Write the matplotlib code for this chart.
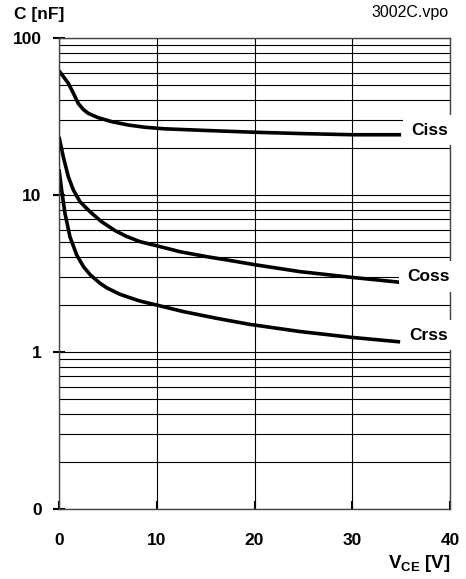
import numpy as np
import matplotlib
matplotlib.use("Agg")
import matplotlib.pyplot as plt
from matplotlib.ticker import LogLocator, FixedLocator, NullFormatter

plt.rcParams['font.family'] = ['Liberation Sans', 'DejaVu Sans']
plt.rcParams['mathtext.fontset'] = 'custom'
plt.rcParams['mathtext.bf'] = 'Liberation Sans:bold'
plt.rcParams['mathtext.rm'] = 'Liberation Sans'

# values (V_CE in V, C in nF)
ciss_v = [0, 0.95, 1.47, 1.98, 2.5, 3.0, 4.0, 5.4, 7.1, 8.8, 10.8, 14.8, 20, 25, 30, 35]
ciss_c = [61.9, 51.5, 44.5, 38.2, 35.0, 33.1, 31.1, 29.3, 27.9, 27.0, 26.4, 25.8, 25.1, 24.6,
          24.2, 24.2]

coss_v = [0, 0.44, 0.95, 1.47, 2.15, 3.17, 4.3, 5.7, 6.9, 8.3, 10, 12.4, 15.1, 17.8,
          20, 24.65, 29.9, 34.9]
coss_c = [23.5, 17.5, 13.1, 10.75, 9.06, 7.83, 6.8, 5.95, 5.45, 5.04, 4.75, 4.35, 4.05, 3.8,
          3.6, 3.25, 2.99, 2.78]

crss_v = [0, 0.27, 0.61, 1.12, 1.81, 2.5, 3.2, 4.2, 4.9, 6.24, 7.6, 8.3, 10, 12.7, 16.1,
          19.5, 24.65, 29.9, 34.9]
crss_c = [14.6, 10.75, 7.64, 5.42, 4.15, 3.5, 3.1, 2.74, 2.56, 2.33, 2.18, 2.11, 1.99, 1.81, 1.64,
          1.5, 1.35, 1.24, 1.16]

x_ticks = [0, 10, 20, 30, 40]
y_ticks = [0.1, 1, 10, 100]
y_ticklabels = ['0', '1', '10', '100']

fig = plt.figure(figsize=(4.66, 5.79), dpi=100)
ax = fig.add_axes([59/466, 1 - 509/579, (450 - 59)/466, (509 - 38)/579])

ax.set_yscale('log')
ax.set_xlim(0, 40)
ax.set_ylim(0.1, 100)

# grid
ax.yaxis.set_minor_locator(LogLocator(base=10, subs=np.arange(2, 10)))
ax.yaxis.set_minor_formatter(NullFormatter())
ax.grid(True, which='both', axis='y', color='black', linewidth=0.8)
ax.grid(True, which='major', axis='x', color='black', linewidth=0.8)

for vv, cc in [(ciss_v, ciss_c), (coss_v, coss_c), (crss_v, crss_c)]:
    ax.plot(vv, cc, color='black', linewidth=2.6, solid_capstyle='butt',
            solid_joinstyle='round')

ax.xaxis.set_major_locator(FixedLocator(x_ticks))
ax.yaxis.set_major_locator(FixedLocator(y_ticks))
ax.set_yticklabels(y_ticklabels)
ax.tick_params(axis='y', which='major', direction='inout', length=9, width=1.5, pad=8,
               labelsize=12.5)
ax.tick_params(axis='y', which='minor', length=0)
ax.tick_params(axis='x', direction='in', length=6, width=1.5, pad=17, labelsize=12.5)
for lbl in ax.get_xticklabels() + ax.get_yticklabels():
    lbl.set_fontweight('bold')

for sp in ax.spines.values():
    sp.set_linewidth(1.0)
    sp.set_color('#444444')

box = dict(facecolor='white', edgecolor='none', boxstyle='square,pad=0.45')
ax.text(36.0, 25.9, 'Ciss', fontsize=12.5, fontweight='bold', va='center', ha='left',
        bbox=box, clip_on=False, zorder=5)
ax.text(35.6, 3.02, 'Coss', fontsize=12.5, fontweight='bold', va='center', ha='left',
        bbox=box, clip_on=False, zorder=5)
ax.text(35.8, 1.28, 'Crss', fontsize=12.5, fontweight='bold', va='center', ha='left',
        bbox=box, clip_on=False, zorder=5)

fig.text(14/466, 1 - 14/579, 'C [nF]', fontsize=12.5, fontweight='bold', va='center', ha='left')
fig.text(449/466, 1 - 12/579, '3002C.vpo', fontsize=11.5, va='center', ha='right')
fig.text(451/466, 1 - 564/579, r'$\mathbf{V}_{\mathbf{CE}}$ [V]', fontsize=13.5,
         fontweight='bold', va='center', ha='right')

fig.savefig('out.png', dpi=100)
